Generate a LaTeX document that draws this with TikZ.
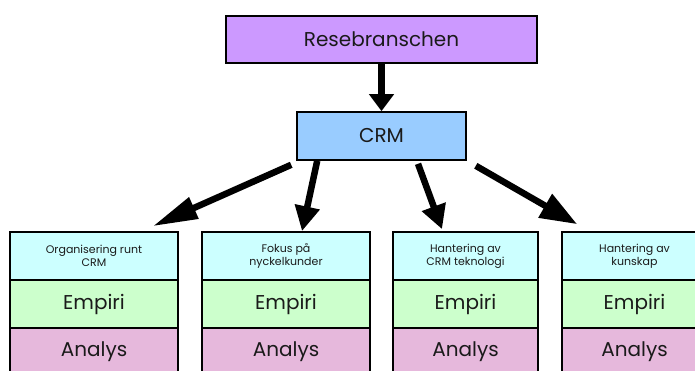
\documentclass[tikz,border=0pt]{standalone}
\usepackage{fontspec}
\setmainfont{Poppins}
\usetikzlibrary{arrows.meta,calc}
\definecolor{topfill}{HTML}{CC99FF}
\definecolor{crmfill}{HTML}{99CCFF}
\definecolor{headfill}{HTML}{CCFFFF}
\definecolor{empfill}{HTML}{CCFFCC}
\definecolor{anafill}{HTML}{E6B8DC}
\definecolor{ink}{HTML}{1A1A1A}
\begin{document}
\begin{tikzpicture}[x=1pt,y=1pt,
  box/.style={draw=black,line width=1.6pt,inner sep=0pt,anchor=center,text=ink},
  bigtext/.style={font=\fontsize{20}{23}\selectfont},
  smalltext/.style={font=\fontsize{11}{12.7}\selectfont,align=center},
  flow/.style 2 args={line width=6.5pt,-{Triangle[length=#1,width=#2]}}]
\useasboundingbox (0,0) rectangle (695,370);
\clip (0,0) rectangle (695,370);

% top of the hierarchy
\node[box,fill=topfill,minimum width=311pt,minimum height=47pt,bigtext] (top) at (381.5,330.5) {Resebranschen};
\node[box,fill=crmfill,minimum width=169pt,minimum height=48pt,bigtext] (crm) at (381.5,234) {CRM};

% four columns: heading, Empiri, Analys
\foreach \i/\cx/\w/\lbl in {1/94/168/{Organisering runt\\CRM},
                             2/286/168/{Fokus på\\nyckelkunder},
                             3/465.5/145/{Hantering av\\CRM teknologi},
                             4/634.5/145/{Hantering av\\kunskap}}{
  \node[box,fill=headfill,minimum width=\w pt,minimum height=48pt,smalltext] (h\i) at (\cx,114) {\lbl};
  \node[box,fill=empfill,minimum width=\w pt,minimum height=48pt,bigtext] (e\i) at (\cx,66) {Empiri};
  \node[box,fill=anafill,minimum width=\w pt,minimum height=48pt,bigtext] (a\i) at (\cx,18) {Analys};
}

% connectors
\draw[flow={17pt}{24pt}] (top.south) -- (crm.north);
\draw[flow={45pt}{22pt}] ($(crm.south west)+(-5,-4)$) -- ($(h1.north east)+(-26,5)$);
\draw[flow={25pt}{24pt}] ($(crm.south west)+(21,0)$) -- ($(h2.north)+(16,0)$);
\draw[flow={24pt}{24pt}] ($(crm.south)+(36.5,-3)$) -- ($(h3.north)+(-23.5,2)$);
\draw[flow={37pt}{26pt}] ($(crm.south east)+(9,-5)$) -- ($(h4.north west)+(16,7)$);
\end{tikzpicture}
\end{document}
